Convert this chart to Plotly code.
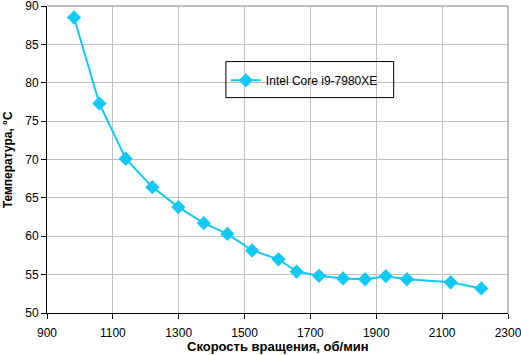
import plotly.graph_objects as go

speed_rpm = [982, 1059, 1139, 1220, 1299, 1376, 1448, 1523, 1603, 1658,
             1726, 1799, 1866, 1929, 1993, 2126, 2219]
temp_c = [88.5, 77.3, 70.1, 66.4, 63.8, 61.7, 60.3, 58.15, 57.0, 55.4,
          54.85, 54.5, 54.4, 54.8, 54.4, 54.0, 53.2]
series_name = "Intel Core i9-7980XE"
x_title = "Скорость вращения, об/мин"
y_title = "Температура, °C"

color = "#12c8f5"
font_family = "Liberation Sans, Arial, sans-serif"

fig = go.Figure()
fig.add_trace(go.Scatter(
    x=speed_rpm, y=temp_c, name=series_name, mode="lines+markers",
    line=dict(color=color, width=2),
    marker=dict(symbol="diamond", size=11, color=color),
    showlegend=True, hoverinfo="skip",
))

fig.update_layout(
    width=521, height=355,
    margin=dict(l=47, r=13, t=6, b=42),
    paper_bgcolor="white", plot_bgcolor="white",
    font=dict(family=font_family, size=12, color="black"),
    showlegend=True,
    legend=dict(
        x=0.388, y=0.805, xanchor="left", yanchor="top",
        borderwidth=0, bgcolor="rgba(0,0,0,0)",
        font=dict(size=12, color="black"),
    ),
    xaxis=dict(
        range=[900, 2300], dtick=200, tick0=900,
        showgrid=True, gridcolor="#c0c0c0", gridwidth=1,
        showline=True, linecolor="black", linewidth=1, mirror=False,
        ticks="outside", ticklen=5, tickcolor="black",
        zeroline=False, automargin=False, ticklabeloverflow="allow",
        ticklabelstandoff=4,
    ),
    yaxis=dict(
        range=[50, 90], dtick=5,
        showgrid=True, gridcolor="#c0c0c0", gridwidth=1,
        showline=True, linecolor="black", linewidth=1,
        ticks="outside", ticklen=5, tickcolor="black",
        zeroline=False, automargin=False, ticklabeloverflow="allow",
    ),
    shapes=[
        dict(type="line", xref="paper", yref="paper", x0=0, x1=1, y0=1, y1=1,
             line=dict(color="#808080", width=1)),
        dict(type="line", xref="paper", yref="paper", x0=1, x1=1, y0=0, y1=1,
             line=dict(color="#808080", width=1)),
        dict(type="rect", xref="paper", yref="paper",
             x0=0.388, x1=0.752, y0=0.7016, y1=0.819,
             line=dict(color="black", width=1), fillcolor="rgba(0,0,0,0)"),
    ],
    annotations=[
        dict(text="<b>" + x_title + "</b>", xref="paper", yref="paper",
             x=0.5, y=-0.109, xanchor="center", yanchor="middle",
             showarrow=False, font=dict(size=13, color="black")),
        dict(text="<b>" + y_title + "</b>", xref="paper", yref="paper",
             x=-0.085, y=0.5, xanchor="center", yanchor="middle", textangle=-90,
             showarrow=False, font=dict(size=12, color="black")),
    ],
)

fig.write_html("out.html", config={"displayModeBar": False},
               post_script="document.body.style.margin='0';")
